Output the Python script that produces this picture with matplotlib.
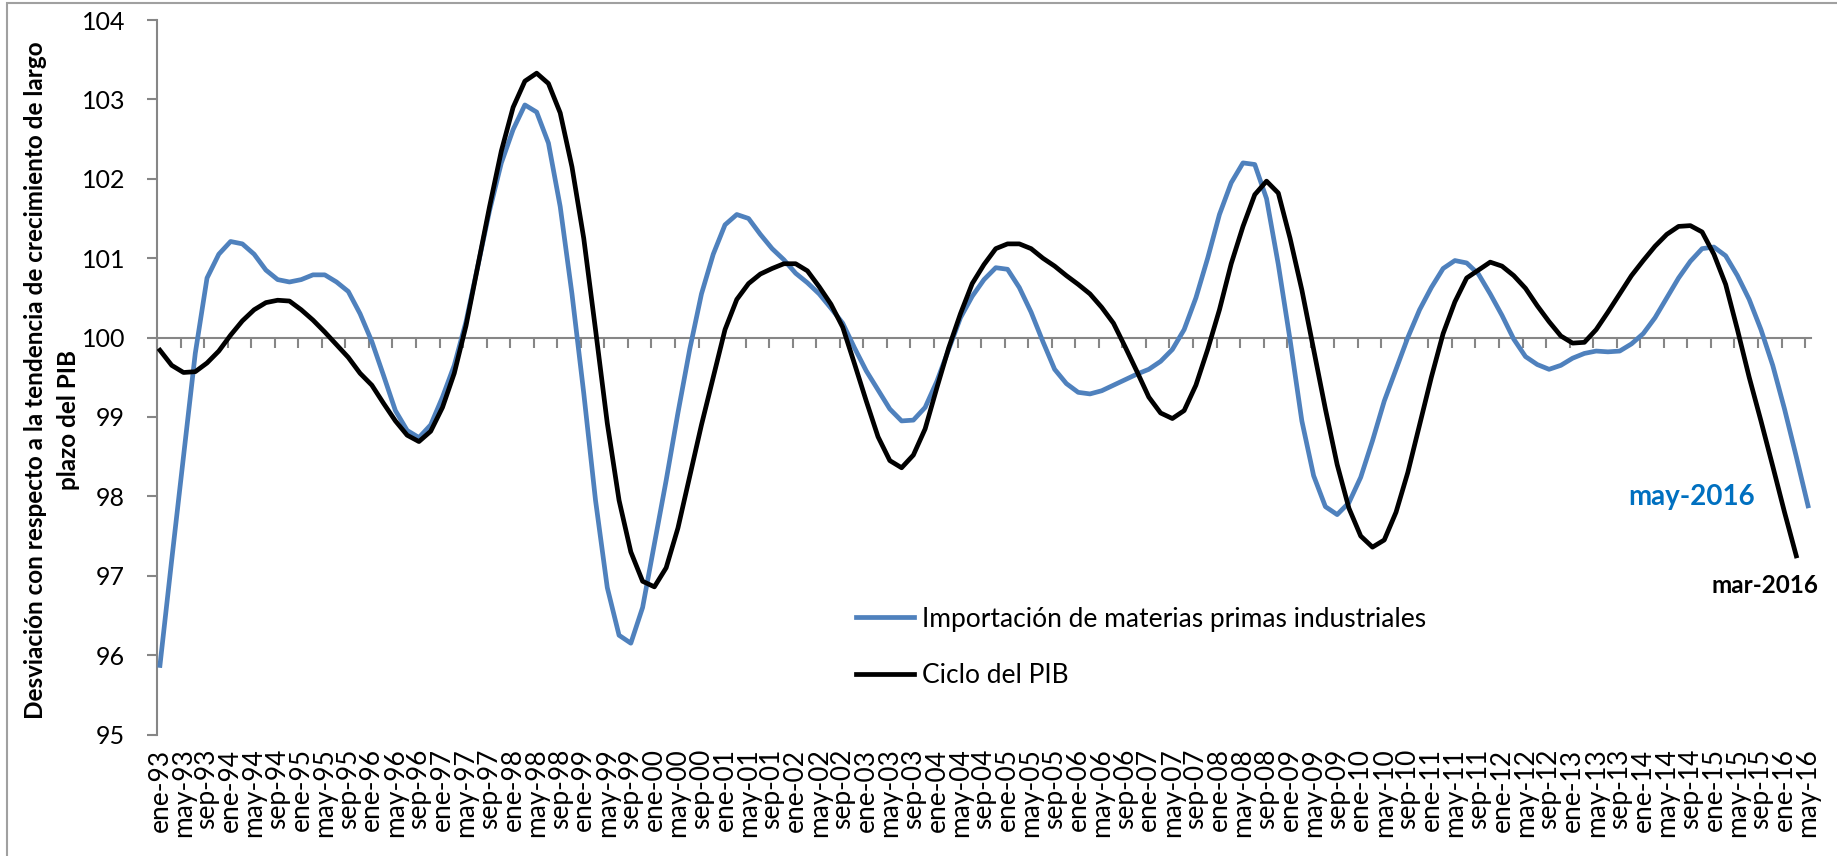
import matplotlib
matplotlib.use('Agg')
import matplotlib.pyplot as plt
from matplotlib.patches import Rectangle
import numpy as np

# ---------------- data ----------------
MESES = ['ene', 'feb', 'mar', 'abr', 'may', 'jun', 'jul', 'ago', 'sep', 'oct', 'nov', 'dic']
# monthly categories ene-93 ... may-16
categorias = [f"{MESES[m]}-{(1993 + y) % 100:02d}" for y in range(24) for m in range(12)][:281]
etiquetas_x = categorias[::4]          # tick labels every 4 months

paso = 2  # values read every 2 months from the picture

importacion = [
    95.87, 97.20, 98.50, 99.80, 100.75, 101.05, 101.21, 101.18, 101.05, 100.85,
    100.73, 100.70, 100.73, 100.79, 100.79, 100.70, 100.58, 100.30, 99.95, 99.52,
    99.08, 98.83, 98.74, 98.90, 99.25, 99.65, 100.20, 100.90, 101.60, 102.20,
    102.62, 102.93, 102.84, 102.45, 101.65, 100.55, 99.30, 97.95, 96.85, 96.25,
    96.15, 96.60, 97.40, 98.20, 99.05, 99.85, 100.55, 101.05, 101.42, 101.55,
    101.50, 101.30, 101.12, 100.98, 100.81, 100.69, 100.55, 100.37, 100.18, 99.87,
    99.58, 99.34, 99.10, 98.95, 98.96, 99.12, 99.45, 99.85, 100.25, 100.52,
    100.73, 100.88, 100.86, 100.63, 100.32, 99.95, 99.60, 99.42, 99.31, 99.29,
    99.33, 99.40, 99.47, 99.54, 99.60, 99.70, 99.85, 100.10, 100.50, 101.00,
    101.55, 101.95, 102.20, 102.18, 101.75, 100.92, 99.97, 98.95, 98.26, 97.87,
    97.77, 97.92, 98.24, 98.70, 99.20, 99.60, 100.00, 100.35, 100.63, 100.87,
    100.97, 100.94, 100.80, 100.55, 100.28, 99.98, 99.76, 99.66, 99.60, 99.65,
    99.74, 99.80, 99.83, 99.82, 99.83, 99.92, 100.05, 100.25, 100.50, 100.75,
    100.96, 101.12, 101.14, 101.03, 100.78, 100.48, 100.10, 99.65, 99.10, 98.50,
    97.88,
]

ciclo_pib = [
    99.84, 99.65, 99.56, 99.57, 99.68, 99.83, 100.03, 100.21, 100.35, 100.44,
    100.47, 100.46, 100.35, 100.22, 100.07, 99.91, 99.75, 99.55, 99.40, 99.17,
    98.95, 98.77, 98.69, 98.82, 99.12, 99.55, 100.15, 100.90, 101.65, 102.35,
    102.90, 103.23, 103.33, 103.20, 102.83, 102.15, 101.25, 100.10, 98.92, 97.95,
    97.30, 96.93, 96.86, 97.10, 97.60, 98.25, 98.90, 99.50, 100.10, 100.48,
    100.68, 100.80, 100.87, 100.93, 100.93, 100.84, 100.64, 100.42, 100.13, 99.67,
    99.20, 98.75, 98.45, 98.36, 98.52, 98.85, 99.37, 99.87, 100.30, 100.68,
    100.92, 101.12, 101.18, 101.18, 101.12, 101.00, 100.90, 100.78, 100.67, 100.55,
    100.38, 100.18, 99.88, 99.57, 99.25, 99.05, 98.98, 99.08, 99.40, 99.85,
    100.35, 100.93, 101.40, 101.80, 101.97, 101.82, 101.25, 100.60, 99.85, 99.10,
    98.40, 97.85, 97.50, 97.36, 97.45, 97.80, 98.30, 98.90, 99.50, 100.05,
    100.45, 100.75, 100.85, 100.95, 100.90, 100.78, 100.62, 100.40, 100.20, 100.02,
    99.93, 99.94, 100.10, 100.32, 100.55, 100.78, 100.97, 101.15, 101.30, 101.40,
    101.41, 101.33, 101.05, 100.67, 100.10, 99.50, 98.95, 98.38, 97.80, 97.25,
]

nombre_imp = 'Importación de materias primas industriales'
nombre_pib = 'Ciclo del PIB'
fin_imp = 'may-2016'
fin_pib = 'mar-2016'
ylabel_l1 = 'Desviación con respecto a la tendencia de crecimiento de largo'
ylabel_l2 = 'plazo del PIB'

# ---------------- figure ----------------
W, H = 1837, 856
fig = plt.figure(figsize=(W / 100, H / 100), dpi=100)
FONT = 'Lato'
GRAY = '#868686'
BLUE = '#4F81BD'

L, R, T, B = 157, 1811, 20, 734.5
ax = fig.add_axes([L / W, 1 - B / H, (R - L) / W, (B - T) / H])

x_imp = np.arange(len(importacion)) * paso
x_pib = np.arange(len(ciclo_pib)) * paso
ax.plot(x_imp, importacion, color=BLUE, lw=3.4, zorder=3, label=nombre_imp,
        solid_joinstyle='round')
ax.plot(x_pib, ciclo_pib, color='black', lw=3.4, zorder=3, label=nombre_pib,
        solid_joinstyle='round')

n = len(categorias)
ax.set_xlim(-0.5, n - 0.5)
ax.set_ylim(95, 104)

for s in ('top', 'right'):
    ax.spines[s].set_visible(False)
ax.spines['bottom'].set_position(('data', 100))
for s in ('bottom', 'left'):
    ax.spines[s].set_color(GRAY)
    ax.spines[s].set_linewidth(1.5)
    ax.spines[s].set_zorder(1)

ax.set_xticks(np.arange(-0.5, n, 4))
ax.tick_params(axis='x', direction='out', length=7, width=1.5, color=GRAY,
               labelbottom=False)
ax.set_yticks(np.arange(95, 105, 1))
ax.set_yticklabels([str(v) for v in range(95, 105)], fontfamily=FONT)
ax.tick_params(axis='y', direction='out', length=7, width=1.5, color=GRAY,
               labelsize=18, pad=16)

sec = ax.secondary_xaxis('bottom')
sec.set_xticks(np.arange(0, n, 4), labels=etiquetas_x)
sec.tick_params(length=0, labelsize=19, pad=10)
for lab in sec.get_xticklabels():
    lab.set_rotation(90)
    lab.set_fontfamily(FONT)
sec.spines['bottom'].set_visible(False)

fig.text(36 / W, 1 - 380 / H, ylabel_l1, rotation=90, fontsize=17.5, fontweight='bold',
         fontfamily=FONT, ha='center', va='center')
fig.text(68 / W, 1 - 420 / H, ylabel_l2, rotation=90, fontsize=17.5, fontweight='bold',
         fontfamily=FONT, ha='center', va='center')

leg = ax.legend(loc='center left', bbox_to_anchor=((856 - L) / (R - L), (B - 647.5) / (B - T)),
                frameon=False, borderpad=0, borderaxespad=0, handlelength=2.2,
                handletextpad=0.3, labelspacing=1.2,
                prop={'family': FONT, 'size': 19})

ax.text(271, 97.99, fin_imp, color='#0070C0', fontsize=20, fontweight='bold',
        fontfamily=FONT, ha='right', va='center')
ax.text(281.7, 96.88, fin_pib, color='black', fontsize=17.5, fontweight='bold',
        fontfamily=FONT, ha='right', va='center', clip_on=False)

# chart-area border
fig.patches.append(Rectangle((7 / W, -0.1), 1.2, 1 - 3 / H + 0.1, transform=fig.transFigure,
                             fill=False, edgecolor='#A0A0A0', lw=1.5))

fig.savefig('out.png', dpi=100)
